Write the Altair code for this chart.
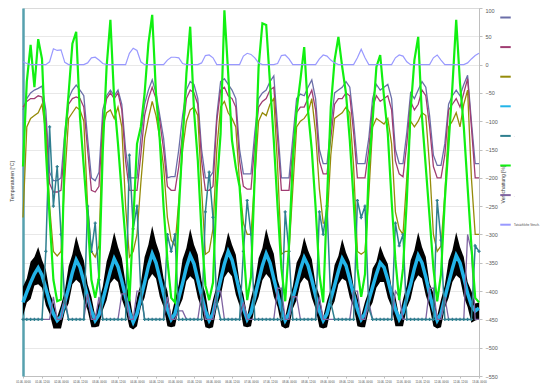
import json
import altair as alt
import pandas as pd

# ---------------- data (12 days, 10 samples per day + final sample) ----------------
dates = ["01.06.", "02.06.", "03.06.", "04.06.", "05.06.", "06.06.", "07.06.",
         "08.06.", "09.06.", "10.06.", "11.06.", "12.06.", "13.06."]
half_days = ["00:00", "12:00"]

black_hi = [
    [-392, -378, -348, -340, -322, -345, -362, -402, -420, -446],
    [-425, -400, -356, -335, -303, -328, -346, -388, -410, -444],
    [-418, -392, -348, -326, -296, -322, -342, -386, -406, -448],
    [-412, -386, -340, -318, -285, -314, -334, -378, -400, -444],
    [-415, -388, -344, -324, -290, -318, -336, -382, -404, -446],
    [-415, -390, -345, -328, -296, -318, -336, -384, -406, -444],
    [-412, -386, -342, -324, -290, -316, -334, -380, -402, -446],
    [-415, -392, -350, -336, -305, -328, -344, -388, -408, -446],
    [-417, -396, -354, -338, -308, -332, -348, -392, -410, -444],
    [-419, -400, -360, -348, -320, -338, -352, -394, -410, -446],
    [-415, -390, -346, -328, -296, -322, -340, -386, -404, -444],
    [-415, -390, -346, -328, -296, -322, -340, -384, -400, -422],
    [-420],
]
black_lo = [
    [-444, -420, -414, -390, -388, -394, -425, -440, -466, -466],
    [-466, -436, -422, -388, -380, -386, -416, -434, -464, -464],
    [-462, -434, -416, -386, -378, -384, -414, -434, -464, -468],
    [-462, -428, -412, -381, -370, -378, -410, -428, -462, -464],
    [-462, -430, -414, -382, -374, -380, -412, -431, -464, -466],
    [-464, -428, -409, -376, -366, -374, -406, -426, -462, -464],
    [-462, -428, -410, -381, -370, -378, -410, -428, -462, -466],
    [-464, -431, -416, -386, -376, -382, -412, -431, -464, -466],
    [-464, -432, -418, -388, -378, -382, -412, -428, -462, -464],
    [-464, -434, -420, -394, -384, -384, -412, -428, -462, -462],
    [-462, -430, -414, -384, -372, -378, -408, -428, -462, -466],
    [-464, -430, -412, -384, -372, -378, -410, -428, -456, -452],
    [-450],
]
blue_gray = [
    [-80, -60, -50, -45, -42, -38, -80, -190, -205, -205],
    [-200, -120, -60, -45, -36, -45, -55, -130, -200, -205],
    [-190, -80, -55, -45, -55, -45, -70, -150, -200, -200],
    [-200, -130, -70, -45, -27, -50, -90, -130, -200, -198],
    [-198, -150, -90, -45, -30, -35, -60, -150, -200, -200],
    [-190, -90, -30, -25, -35, -45, -60, -150, -193, -193],
    [-193, -120, -60, -50, -45, -30, -20, -110, -200, -200],
    [-200, -130, -60, -52, -55, -40, -27, -60, -150, -175],
    [-175, -110, -50, -45, -40, -30, -40, -100, -175, -175],
    [-175, -130, -60, -35, -45, -40, -35, -60, -150, -175],
    [-175, -120, -50, -60, -45, -30, -40, -90, -160, -178],
    [-178, -140, -70, -55, -45, -55, -35, -19, -100, -175],
    [-175],
]
maroon = [
    [-75, -65, -60, -60, -55, -57, -100, -210, -225, -225],
    [-222, -140, -70, -60, -57, -60, -75, -150, -222, -225],
    [-215, -100, -60, -50, -60, -50, -80, -170, -222, -222],
    [-222, -160, -90, -60, -40, -60, -100, -150, -215, -222],
    [-222, -180, -120, -60, -45, -50, -70, -170, -222, -222],
    [-215, -100, -45, -40, -55, -60, -75, -170, -215, -220],
    [-220, -140, -75, -65, -60, -45, -40, -130, -222, -222],
    [-222, -150, -85, -75, -75, -60, -45, -80, -170, -193],
    [-193, -130, -70, -60, -60, -50, -55, -120, -200, -200],
    [-200, -150, -75, -55, -65, -60, -55, -80, -170, -193],
    [-198, -140, -65, -80, -70, -45, -55, -110, -180, -200],
    [-200, -160, -80, -70, -60, -75, -50, -25, -110, -200],
    [-200],
]
olive = [
    [-270, -110, -95, -90, -85, -70, -120, -250, -330, -338],
    [-330, -200, -95, -85, -75, -80, -100, -250, -330, -340],
    [-320, -110, -85, -80, -95, -75, -110, -250, -340, -330],
    [-300, -210, -130, -95, -65, -90, -130, -180, -270, -310],
    [-320, -240, -150, -100, -80, -75, -90, -220, -335, -330],
    [-290, -150, -75, -65, -85, -95, -110, -210, -280, -300],
    [-300, -200, -100, -85, -90, -70, -60, -180, -335, -330],
    [-330, -220, -110, -100, -95, -85, -60, -120, -220, -280],
    [-280, -160, -95, -90, -85, -75, -85, -180, -330, -335],
    [-330, -230, -110, -95, -100, -105, -95, -140, -260, -290],
    [-300, -200, -100, -110, -100, -85, -90, -180, -300, -330],
    [-320, -230, -110, -100, -85, -110, -70, -45, -200, -300],
    [-300],
]
cyan = [
    [-420, -402, -385, -370, -359, -372, -395, -420, -440, -452],
    [-445, -420, -395, -367, -345, -358, -383, -410, -435, -452],
    [-442, -416, -390, -364, -343, -357, -382, -410, -437, -455],
    [-440, -412, -385, -356, -334, -350, -377, -405, -432, -450],
    [-440, -412, -386, -358, -337, -352, -380, -408, -435, -452],
    [-440, -410, -380, -352, -330, -345, -372, -402, -430, -450],
    [-438, -410, -382, -355, -334, -350, -378, -405, -432, -452],
    [-440, -413, -388, -362, -341, -355, -380, -408, -435, -452],
    [-440, -414, -390, -365, -343, -355, -380, -406, -432, -450],
    [-440, -416, -393, -370, -350, -358, -380, -406, -432, -450],
    [-438, -412, -388, -360, -337, -350, -375, -405, -432, -452],
    [-440, -412, -386, -360, -337, -350, -376, -404, -425, -435],
    [-430],
]
teal = [
    [-450, -450, -450, -450, -450, -450, -330, -110, -250, -180],
    [-300, -420, -450, -450, -450, -450, -450, -250, -330, -280],
    [-380, -450, -450, -450, -450, -450, -450, -450, -160, -290],
    [-250, -400, -450, -450, -450, -450, -450, -450, -300, -330],
    [-300, -450, -450, -450, -450, -450, -450, -450, -260, -190],
    [-270, -420, -450, -450, -450, -450, -450, -450, -330, -240],
    [-300, -450, -450, -450, -450, -450, -450, -450, -450, -260],
    [-330, -450, -450, -450, -450, -450, -450, -450, -260, -300],
    [-250, -420, -450, -450, -450, -450, -450, -450, -240, -270],
    [-250, -430, -450, -450, -450, -450, -450, -450, -280, -320],
    [-300, -450, -450, -450, -450, -450, -450, -450, -450, -240],
    [-310, -450, -450, -450, -450, -450, -450, -450, -450, -320],
    [-330],
]
green = [
    [-180, -30, 35, -40, 45, 10, -150, -270, -380, -418],
    [-415, -134, -51, 37, 58, -93, -181, -270, -380, -412],
    [-375, -151, -4, 79, -63, -140, -228, -311, -418, -280],
    [-140, -110, -51, 37, 88, -51, -134, -252, -345, -412],
    [-420, -258, -134, -16, 67, -81, -169, -299, -390, -416],
    [-385, -216, -122, 96, -16, -134, -181, -216, -320, -416],
    [-375, -193, -4, 73, 70, -33, -134, -252, -360, -418],
    [-320, -169, -81, -27, 31, -81, -151, -252, -370, -420],
    [-240, -75, 8, 49, -4, -51, -134, -240, -360, -410],
    [-370, -181, -99, -4, 17, -57, -122, -240, -345, -416],
    [-360, -240, -81, 8, 49, -93, -181, -270, -360, -418],
    [-370, -240, -140, -39, 79, -33, -110, -216, -320, -412],
    [-420],
]
purple = [
    [-450, -450, -450, -450, -450, -450, -450, -450, -410, -450],
    [-450, -410, -450, -450, -450, -450, -450, -405, -450, -450],
    [-410, -450, -450, -450, -450, -450, -405, -405, -450, -450],
    [-400, -400, -450, -450, -450, -450, -450, -450, -410, -450],
    [-450, -435, -435, -450, -450, -450, -450, -405, -450, -450],
    [-450, -400, -400, -450, -450, -450, -450, -450, -420, -450],
    [-450, -450, -450, -450, -450, -450, -450, -395, -395, -450],
    [-450, -410, -410, -450, -450, -450, -450, -450, -410, -450],
    [-450, -450, -450, -450, -450, -450, -450, -400, -400, -450],
    [-450, -420, -450, -450, -450, -450, -450, -450, -400, -410],
    [-450, -450, -450, -450, -450, -450, -450, -395, -395, -450],
    [-450, -410, -450, -450, -450, -450, -450, -300, -330, -450],
    [-450],
]
shading = [
    [5, 2, 0, 0, 0, 0, 0, 5, 28, 25],
    [26, 4, 0, 0, 0, 0, 0, 3, 12, 13],
    [8, 2, 0, 0, 0, 0, 0, 0, 20, 29],
    [25, 5, 0, 0, 0, 0, 0, 0, 8, 13],
    [13, 12, 2, 0, 0, 0, 0, 3, 16, 17],
    [12, 0, 0, 0, 0, 0, 0, 0, 15, 20],
    [18, 12, 3, 0, 0, 0, 0, 2, 16, 17],
    [10, 0, 0, 0, 0, 0, 0, 0, 10, 17],
    [15, 8, 3, 0, 0, 0, 0, 0, 12, 27],
    [12, 0, 0, 0, 0, 0, 0, 0, 12, 17],
    [15, 5, 0, 0, 0, 0, 0, 0, 12, 17],
    [8, 0, 0, 0, 0, 0, 0, 3, 10, 16],
    [20],
]

series_names = ["Raumtemperatur EG", "Raumtemperatur OG", "Raumtemperatur DG",
                "Außentemperatur gemittelt", "Heizleistung", "Globalstrahlung",
                "Lüftung", "Tatsächliche Verschattung"]
legend_text = ["", "", "", "", ".", "", ".", "Tatsächliche Versch."]
series_colors = ["#6b6ea8", "#a03d72", "#958b0a", "#22b4e8", "#2f7f8f",
                 "#11f011", "#8064a2", "#9999ff"]
y_ticks = list(range(-550, 101, 50))
left_title = "Temperaturen [°C]"
right_title = "Verschattung [%]"


def flat(rows):
    return [v for r in rows for v in r]


T = list(range(len(flat(cyan))))
x_tick_values = list(range(0, 121, 5))
x_tick_labels = [f"{d} {h}" for d in dates[:-1] for h in half_days] + [f"{dates[-1]} 00:00"]


def frame(name, rows):
    return pd.DataFrame({"t": T, "v": flat(rows), "series": name})


black_df = pd.DataFrame({"t": T, "hi": flat(black_hi), "lo": flat(black_lo)})

yscale = alt.Scale(domain=[-550, 100], nice=False, zero=False)
xscale = alt.Scale(domain=[0, 120], nice=False, zero=False)

color = alt.Color(
    "series:N",
    scale=alt.Scale(domain=series_names, range=series_colors),
    legend=alt.Legend(
        orient="none", legendX=476, legendY=3, title=None,
        symbolType="stroke", symbolSize=110, symbolStrokeWidth=2,
        labelFontSize=2.8, labelColor="#404040", labelOffset=2,
        labelExpr=f"{json.dumps(dict(zip(series_names, legend_text)))}[datum.label]",
        rowPadding=18.6, padding=0, offset=0,
    ),
)

x_axis = alt.Axis(
    values=x_tick_values, labelExpr=f"{json.dumps(x_tick_labels)}[round(datum.value/5)]",
    labelFontSize=2.6, labelAngle=0, labelOverlap=False, labelFlush=False,
    labelColor="#404040", labelPadding=3, tickSize=2, tickColor="#bfbfbf",
    domainColor="#bfbfbf", grid=False, title=None,
)
left_axis = alt.Axis(
    orient="left", values=y_ticks, labels=False, ticks=False,
    domainColor="#56a0ae", domainWidth=2.5,
    grid=True, gridColor="#d9d9d9", gridWidth=0.6,
    title=left_title, titleFontSize=5, titleColor="#404040", titleFontWeight="normal",
    titleX=-12, titleY=173, titleAngle=270, titleAlign="center", titleBaseline="middle",
)
right_axis = alt.Axis(
    orient="right", values=y_ticks, grid=False, tickSize=3, tickColor="#bfbfbf",
    domainColor="#bfbfbf", labelFontSize=5.5, labelColor="#595959", labelPadding=3,
    labelBaseline=alt.condition("datum.value == 100", alt.value("top"), alt.value("middle")),
    title=right_title, titleFontSize=5, titleColor="#404040", titleFontWeight="normal",
    titleX=23, titleY=176, titleAngle=270, titleAlign="center", titleBaseline="middle",
)

X = alt.X("t:Q", scale=xscale, axis=x_axis)
YL = alt.Y("v:Q", scale=yscale, axis=left_axis)

black_layer = alt.Chart(black_df).mark_area(color="#000000").encode(
    x=X,
    y=alt.Y("hi:Q", scale=yscale, axis=left_axis),
    y2="lo:Q",
)


def line(rows, idx, width, **kw):
    return alt.Chart(frame(series_names[idx], rows)).mark_line(strokeWidth=width, **kw).encode(
        x=X, y=YL, color=color,
    )


inner = alt.layer(
    black_layer,
    line(blue_gray, 0, 1.3),
    line(maroon, 1, 1.3),
    line(olive, 2, 1.3),
    line(cyan, 3, 3.5),
    line(purple, 6, 1.3),
    line(teal, 4, 1.5, point=alt.OverlayMarkDef(shape="cross", size=10, filled=True)),
    line(green, 5, 2.2),
)

shade_layer = alt.Chart(frame(series_names[7], shading)).mark_line(strokeWidth=1.2).encode(
    x=X, y=alt.Y("v:Q", scale=yscale, axis=right_axis), color=color,
)

chart = alt.layer(inner, shade_layer).resolve_scale(y="independent").properties(
    width=456, height=368,
    padding={"left": 15, "top": 0, "right": 68, "bottom": 12},
    autosize=alt.AutoSizeParams(type="none"),
    background="white",
).configure_view(stroke=None).configure(font="Liberation Sans")

chart.save("out.html", embed_options={"renderer": "svg", "actions": False})
